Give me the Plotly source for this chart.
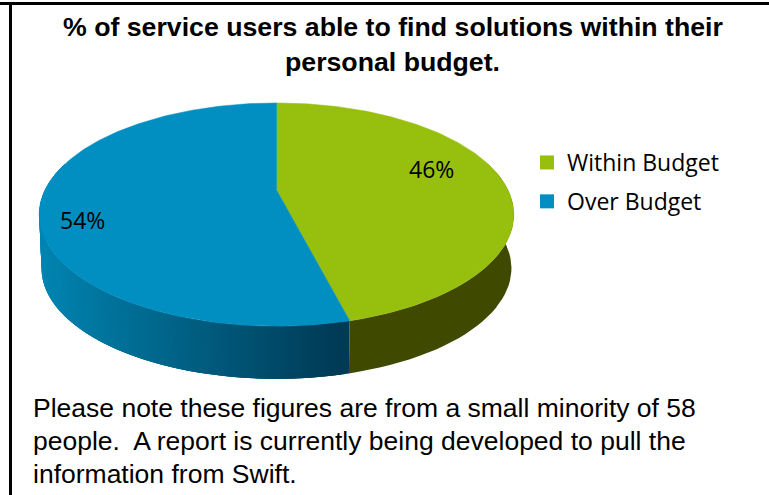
import math
import plotly.graph_objects as go

categories = ["Within Budget", "Over Budget"]
values = [46, 54]
colors = ["#97BF0D", "#008FC0"]
title_lines = ["% of service users able to find solutions within their", "personal budget."]
note_lines = ["Please note these figures are from a small minority of 58",
              "people.  A report is currently being developed to pull the",
              "information from Swift."]

# perspective projection of the pie disc (image is in pixel coordinates)
CX, CY, A, B, K, DEPTH, SHRINK = 276.5, 190.0, 231.5, 106.2, 0.22, 54.0, 0.99


def project(theta, base=False):
    u, v = math.sin(theta), -math.cos(theta)
    d = 1 - K * v
    s = SHRINK if base else 1.0
    return CX + s * A * u / d, CY + s * B * v / d + (DEPTH if base else 0)


def lerp_hex(c1, c2, t):
    a = [int(c1[i:i + 2], 16) for i in (1, 3, 5)]
    b = [int(c2[i:i + 2], 16) for i in (1, 3, 5)]
    return "rgb(%d,%d,%d)" % tuple(round(p + (q - p) * t) for p, q in zip(a, b))


total = sum(values)
boundary = 2 * math.pi * values[0] / total
fig = go.Figure()


def poly(xs, ys, color, width=0.0):
    fig.add_trace(go.Scatter(x=xs, y=ys, mode="lines", fill="toself", fillcolor=color,
                             line=dict(color=color, width=width), hoverinfo="skip", showlegend=False))


def wall(t1, t2, color):
    x1, y1 = project(t1)
    x2, y2 = project(t2)
    x3, y3 = project(t2, True)
    x4, y4 = project(t1, True)
    poly([x1, x2, x3, x4, x1], [y1, y2, y3, y4, y1], color)


# side wall of the first slice: one flat dark face
lo, hi = math.radians(75), math.radians(285)
n = 40
wall_pts = [lo + (boundary - lo) * i / n for i in range(n + 1)]
wx = [project(t)[0] for t in wall_pts] + [project(t, True)[0] for t in reversed(wall_pts)]
wy = [project(t)[1] for t in wall_pts] + [project(t, True)[1] for t in reversed(wall_pts)]
poly(wx, wy, "#3F4A00")

# side wall of the second slice: strips shaded by horizontal position, each
# overlapping its neighbour so no seam shows
m = 150
step = (hi - boundary) / m
for i in range(m - 1, -1, -1):
    t = boundary + step * i
    f = max(0.0, min(1.0, (project(t)[0] - 40) / (352 - 40)))
    wall(t, min(hi, t + 3 * step), lerp_hex("#0085B2", "#003A55", f))

# top faces
start = 0.0
for val, col in zip(values, colors):
    sweep = 2 * math.pi * val / total
    pts = [project(start + sweep * i / 200) for i in range(201)]
    poly([CX] + [p[0] for p in pts] + [CX], [CY] + [p[1] for p in pts] + [CY], col, 0.5)
    start += sweep

# legend entries
for cat, col in zip(categories, colors):
    fig.add_trace(go.Scatter(x=[None], y=[None], mode="markers", name=cat, legendgroup=cat,
                             marker=dict(symbol="square", size=14, color=col), hoverinfo="skip"))

ann = []
for i, line in enumerate(title_lines):
    ann.append(dict(x=392.5, y=27 + 35 * i, text="<b>%s</b>" % line, showarrow=False,
                    font=dict(family="Liberation Sans", size=26.7, color="#000")))
for i, line in enumerate(note_lines):
    ann.append(dict(x=30.5, y=407.5 + 33 * i, text=line, showarrow=False, xanchor="left",
                    font=dict(family="Liberation Sans", size=26.5, color="#000")))
for (lx, ly), val in zip([(431, 169), (82, 220)], values):
    ann.append(dict(x=lx, y=ly, text="%d%%" % val, showarrow=False,
                    font=dict(family="Open Sans", size=23, color="#000")))

fig.update_layout(
    width=769, height=495, margin=dict(l=0, r=0, t=0, b=0),
    paper_bgcolor="white", plot_bgcolor="white",
    xaxis=dict(range=[0, 769], visible=False, fixedrange=True),
    yaxis=dict(range=[495, 0], visible=False, fixedrange=True),
    annotations=ann,
    shapes=[dict(type="rect", x0=0, x1=769, y0=2, y1=5, fillcolor="#000", line_width=0),
            dict(type="rect", x0=9, x1=12, y0=2, y1=495, fillcolor="#000", line_width=0)],
    legend=dict(x=527 / 769, y=1 - 141 / 495, xanchor="left", yanchor="top",
                font=dict(family="Open Sans", size=23, color="#000"),
                tracegroupgap=6, itemwidth=30, bgcolor="rgba(0,0,0,0)"),
)
fig.write_html("out.html", config=dict(displayModeBar=False),
               post_script="document.body.style.margin='0';document.body.style.overflow='hidden';")
